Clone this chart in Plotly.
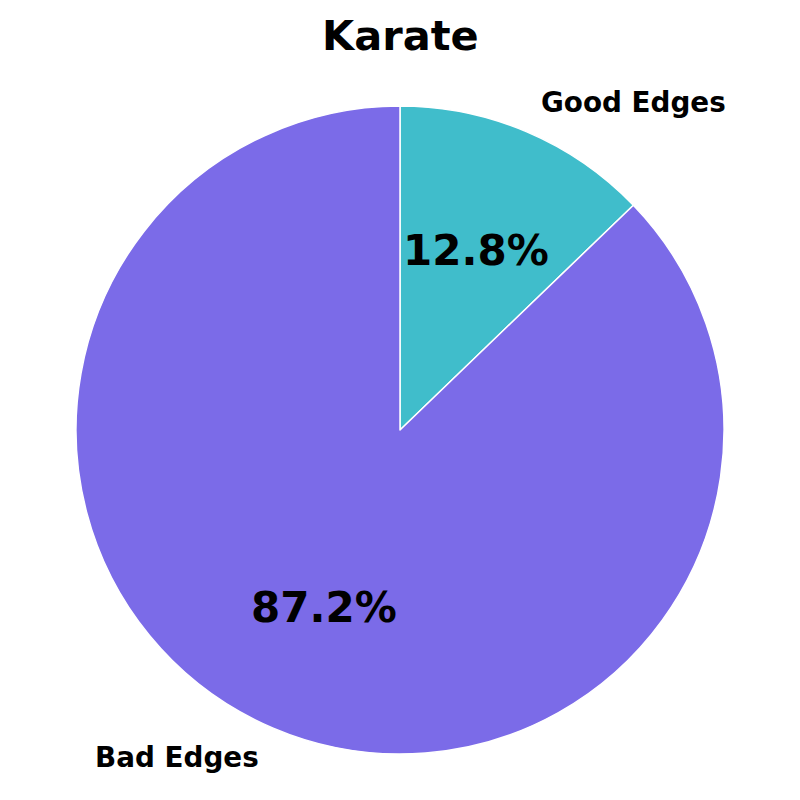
import math
import plotly.graph_objects as go

title = "Karate"
labels = ["Good Edges", "Bad Edges"]
values = [12.8, 87.2]
colors = ["#40BDCB", "#7B6BE8"]

# the page body adds an 8px margin; the figure is sized to fit inside it
OFF = 8
W = H = 800 - 2 * OFF
cx, cy, r = 400 - OFF, 430 - OFF, 324  # pixel geometry of the pie within the figure

fig = go.Figure(go.Pie(
    labels=labels, values=values, sort=False, direction="clockwise", rotation=0,
    marker=dict(colors=colors, line=dict(color="white", width=1.5)),
    textinfo="none", hoverinfo="label+percent", showlegend=False,
    domain=dict(x=[(cx - r) / W, (cx + r) / W], y=[1 - (cy + r) / H, 1 - (cy - r) / H]),
))

total = sum(values)
start = 90.0
annotations = []
for lab, v in zip(labels, values):
    span = v / total * 360
    mid = math.radians(start - span / 2)
    start -= span
    c, s = math.cos(mid), math.sin(mid)
    # percentage label at 0.6 r
    annotations.append(dict(
        x=(cx + 0.6 * r * c) / W, y=1 - (cy - 0.6 * r * s - 1) / H, xref="paper", yref="paper",
        text=f"<b>{v / total * 100:.1f}%</b>", showarrow=False,
        font=dict(family="DejaVu Sans", size=42, color="black"),
        xanchor="center", yanchor="middle"))
    # category label at 1.1 r
    annotations.append(dict(
        x=(cx + 1.1 * r * c) / W, y=1 - (cy - 1.1 * r * s) / H, xref="paper", yref="paper",
        text=f"<b>{lab}</b>", showarrow=False,
        font=dict(family="DejaVu Sans", size=27.8, color="black"),
        xanchor="left" if c > 0 else "right", yanchor="middle"))

annotations.append(dict(
    x=0.5, y=1 - (36 - OFF) / H, xref="paper", yref="paper", text=f"<b>{title}</b>", showarrow=False,
    font=dict(family="DejaVu Sans", size=41.5, color="black"), xanchor="center", yanchor="middle"))

fig.update_layout(
    width=W, height=H, margin=dict(l=0, r=0, t=0, b=0),
    paper_bgcolor="white", plot_bgcolor="white",
    annotations=annotations,
)
fig.write_html("out.html")
